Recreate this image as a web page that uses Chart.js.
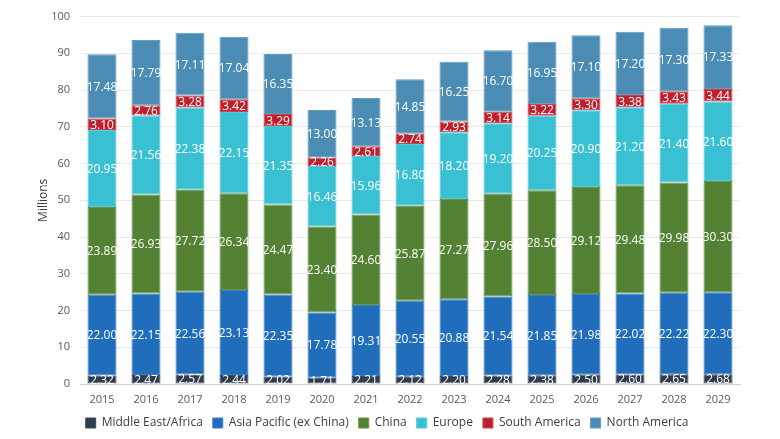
<!DOCTYPE html>
<html>
<head>
<meta charset="utf-8">
<script src="https://cdn.jsdelivr.net/npm/chart.js@4"></script>
<style>
  html, body { margin: 0; padding: 0; background: #fff; }
  #wrap { width: 780px; height: 439px; }
</style>
</head>
<body>
<div id="wrap"><canvas id="grafico" width="780" height="439"></canvas></div>
<script>
const anos = ["2015", "2016", "2017", "2018", "2019", "2020", "2021", "2022", "2023", "2024", "2025", "2026", "2027", "2028", "2029"];
const orienteMedio = [2.32, 2.47, 2.57, 2.44, 2.02, 1.71, 2.21, 2.12, 2.20, 2.28, 2.38, 2.50, 2.60, 2.65, 2.68];
const asiaPacifico = [22.00, 22.15, 22.56, 23.13, 22.35, 17.78, 19.31, 20.55, 20.88, 21.54, 21.85, 21.98, 22.02, 22.22, 22.30];
const china = [23.89, 26.93, 27.72, 26.34, 24.47, 23.40, 24.60, 25.87, 27.27, 27.96, 28.50, 29.12, 29.48, 29.98, 30.30];
const europa = [20.95, 21.56, 22.38, 22.15, 21.35, 16.46, 15.96, 16.80, 18.20, 19.20, 20.25, 20.90, 21.20, 21.40, 21.60];
const americaSul = [3.10, 2.76, 3.28, 3.42, 3.29, 2.26, 2.61, 2.74, 2.93, 3.14, 3.22, 3.30, 3.38, 3.43, 3.44];
const americaNorte = [17.48, 17.79, 17.11, 17.04, 16.35, 13.00, 13.13, 14.85, 16.25, 16.70, 16.95, 17.10, 17.20, 17.30, 17.33];
const yTicks = [0, 10, 20, 30, 40, 50, 60, 70, 80, 90, 100];

const FONTE = "'Open Sans', 'Noto Sans', sans-serif";

function serie(nome, dados, cor, borda) {
  return {
    label: nome,
    data: dados,
    backgroundColor: cor,
    borderColor: borda,
    borderWidth: 1,
    borderSkipped: false,
    categoryPercentage: 1,
    barPercentage: 0.66,
  };
}

// rótulos brancos no meio de cada segmento
const rotulos = {
  id: "rotulos",
  afterDatasetsDraw(chart) {
    const ctx = chart.ctx;
    ctx.save();
    ctx.fillStyle = "#ffffff";
    ctx.font = "12px " + FONTE;
    ctx.textAlign = "center";
    ctx.textBaseline = "middle";
    chart.data.datasets.forEach((ds, i) => {
      chart.getDatasetMeta(i).data.forEach((bar, j) => {
        const meio = (bar.y + bar.base) / 2;
        ctx.fillText(ds.data[j].toFixed(2), bar.x, meio + 1);
      });
    });
    ctx.restore();
  },
};

new Chart(document.getElementById("grafico"), {
  type: "bar",
  data: {
    labels: anos,
    datasets: [
      serie("Middle East/Africa", orienteMedio, "#2d3d4f", "#3d4d60"),
      serie("Asia Pacific (ex China)", asiaPacifico, "#1f6dbb", "#3a80c6"),
      serie("China", china, "#548235", "#679442"),
      serie("Europe", europa, "#3ac0d3", "#55cadb"),
      serie("South America", americaSul, "#c0202e", "#cc4450"),
      serie("North America", americaNorte, "#4a8cb4", "#629cc0"),
    ],
  },
  options: {
    responsive: false,
    animation: false,
    devicePixelRatio: 1,
    layout: { padding: { left: 34, right: 40, top: 3, bottom: 0 } },
    scales: {
      x: {
        stacked: true,
        grid: { display: false },
        border: { color: "#d0d0d0" },
        afterFit: (s) => { s.height = 23; },
        ticks: { color: "#595959", font: { family: FONTE, size: 11 }, padding: 1 },
      },
      y: {
        stacked: true,
        min: 0,
        max: 100,
        afterBuildTicks: (s) => { s.ticks = yTicks.map((v) => ({ value: v })); },
        afterFit: (s) => { s.width = 46; },
        grid: { color: "#ebebeb", drawTicks: false },
        border: { display: false },
        ticks: { color: "#595959", font: { family: FONTE, size: 11 }, padding: 10 },
        title: { display: true, text: "Millions", color: "#404040", font: { family: FONTE, size: 12 }, padding: 2 },
      },
    },
    plugins: {
      legend: {
        position: "bottom",
        labels: {
          boxWidth: 10,
          boxHeight: 10,
          padding: 10,
          color: "#404040",
          font: { family: FONTE, size: 12 },
        },
      },
      tooltip: { enabled: false },
    },
  },
  plugins: [rotulos],
});
</script>
</body>
</html>
